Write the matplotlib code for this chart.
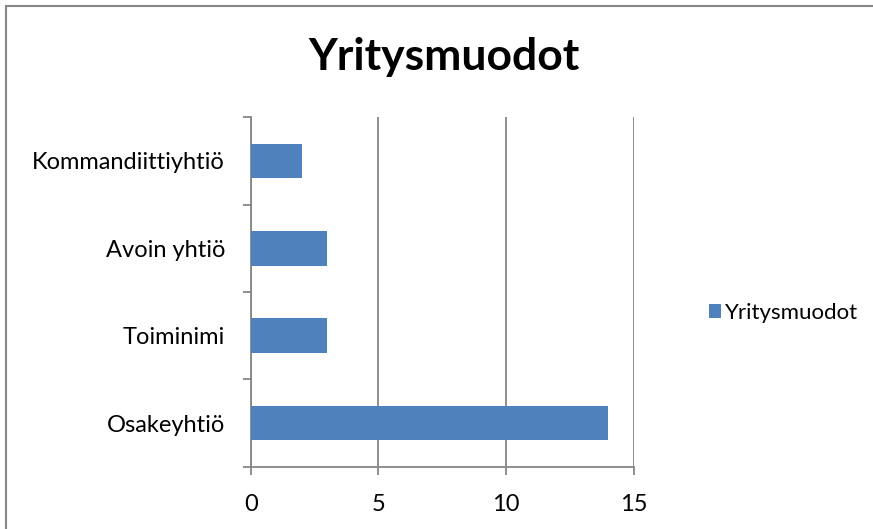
import matplotlib
matplotlib.use("Agg")
import matplotlib.pyplot as plt
from matplotlib.patches import Rectangle, Patch

categories = ["Osakeyhtiö", "Toiminimi", "Avoin yhtiö", "Kommandiittiyhtiö"]
values = [14, 3, 3, 2]
series_name = "Yritysmuodot"
title = "Yritysmuodot"
xticks = [0, 5, 10, 15]

plt.rcParams['font.family'] = ['Lato', 'DejaVu Sans']

W, H = 873, 529
fig = plt.figure(figsize=(W/100, H/100), dpi=100)
fig.patch.set_facecolor('white')

# outer chart border (right and bottom edges fall outside the image)
fig.add_artist(Rectangle((5.5/W, -0.05), 1.1, (1 - 5.5/H) + 0.05,
                         transform=fig.transFigure, fill=False,
                         edgecolor='#868686', linewidth=1.5))

ax = fig.add_axes([250.7/W, 1-466.7/H, (633.7-250.7)/W, (466.7-117.3)/H])
gray = '#868686'
pos = list(range(len(categories)))
ax.barh(pos, values, height=0.4, color='#4F81BD', zorder=3, label=series_name)
ax.set_xlim(0, 15)
ax.set_ylim(-0.5, len(categories)-0.5)
ax.set_xticks(xticks)
ax.set_xticklabels([str(t) for t in xticks])
ax.set_yticks([p - 0.5 for p in pos] + [len(categories)-0.5], minor=False)
ax.set_yticklabels([])
ax.set_yticks(pos, minor=True)
ax.set_yticklabels(categories, minor=True)
ax.tick_params(axis='y', which='minor', length=0, pad=18.5, labelsize=17)
ax.tick_params(axis='y', which='major', length=6, width=1.3, color=gray, direction='out')
ax.tick_params(axis='x', length=6, width=1.3, color=gray, direction='out', pad=14, labelsize=17)
ax.grid(axis='x', color=gray, linewidth=1.3, zorder=0)
for s in ['top', 'right']:
    ax.spines[s].set_visible(False)
for s in ['left', 'bottom']:
    ax.spines[s].set_color(gray)
    ax.spines[s].set_linewidth(1.3)

fig.text(444/W, 1-57/H, title, ha='center', va='center', fontsize=32, fontweight='bold')

fig.legend(handles=[Patch(facecolor='#4F81BD', label=series_name)],
           loc='center left', bbox_to_anchor=(709/W, 1-313/H), frameon=False,
           fontsize=16, handlelength=0.55, handleheight=0.55, handletextpad=0.15,
           borderaxespad=0, borderpad=0)

fig.savefig('out.png', dpi=100)
